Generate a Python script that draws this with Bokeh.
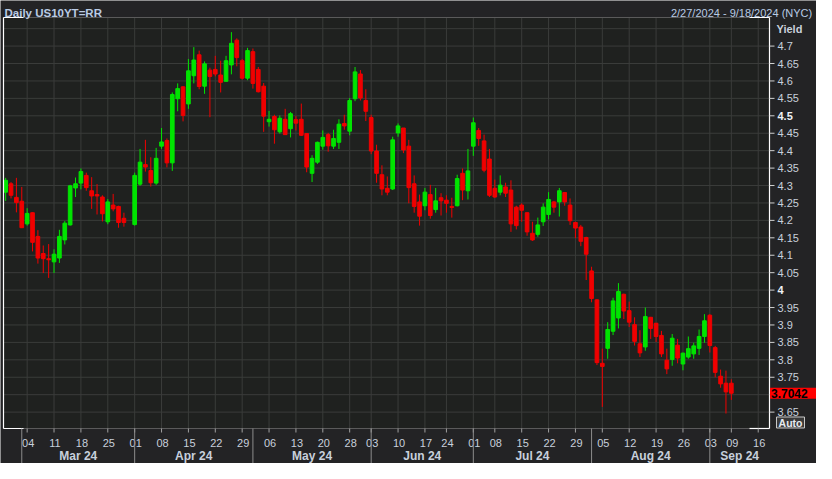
import pandas as pd
from bokeh.plotting import figure
from bokeh.models import Range1d, ColumnDataSource, Grid, BoxAnnotation
from bokeh.core.properties import value
from bokeh.embed import file_html
from bokeh.resources import INLINE

# ---------------- data ----------------
holidays = ["2024-05-27", "2024-06-19", "2024-07-04", "2024-09-02"]
no_data_days = ["2024-03-29"]
last_day = "2024-09-09"

opens = [
    4.281, 4.305, 4.266, 4.255,
    4.190, 4.222, 4.154, 4.105, 4.090,
    4.081, 4.092, 4.144, 4.187, 4.293,
    4.307, 4.329, 4.285, 4.274, 4.267,
    4.196, 4.244, 4.240, 4.206,
    4.188, 4.304, 4.360, 4.343, 4.307,
    4.413, 4.429, 4.365, 4.549, 4.583,
    4.534, 4.615, 4.675, 4.585, 4.631,
    4.633, 4.617, 4.599, 4.646, 4.717,
    4.658, 4.608, 4.684, 4.633, 4.585,
    4.483, 4.498, 4.454, 4.490, 4.463,
    4.489, 4.490, 4.449, 4.335, 4.367,
    4.413, 4.446, 4.413, 4.424, 4.478,
    4.456, 4.549, 4.620, 4.544,
    4.495, 4.399, 4.331, 4.292, 4.290,
    4.451, 4.465, 4.413, 4.305, 4.253,
    4.242, 4.274, 4.231, 4.265,
    4.258, 4.240, 4.242, 4.335, 4.285,
    4.413, 4.458, 4.428, 4.376,
    4.292, 4.281, 4.296, 4.287, 4.238,
    4.244, 4.222, 4.163, 4.160, 4.196,
    4.217, 4.253, 4.253, 4.280, 4.244,
    4.194, 4.181, 4.151, 4.055, 3.972,
    3.790, 3.833, 3.882, 3.920, 3.988,
    3.941, 3.901, 3.846, 3.837, 3.922,
    3.905, 3.870, 3.799, 3.801, 3.842,
    3.788, 3.808, 3.817, 3.833, 3.867,
    3.928, 3.835, 3.753, 3.733,
    3.733,
]
highs = [
    4.322, 4.310, 4.322, 4.296,
    4.235, 4.223, 4.172, 4.128, 4.132,
    4.117, 4.173, 4.198, 4.302, 4.323,
    4.349, 4.337, 4.324, 4.304, 4.272,
    4.261, 4.276, 4.242, 4.222,
    4.337, 4.405, 4.431, 4.381, 4.408,
    4.465, 4.435, 4.567, 4.593, 4.585,
    4.663, 4.697, 4.687, 4.656, 4.638,
    4.672, 4.658, 4.672, 4.740, 4.722,
    4.663, 4.695, 4.693, 4.640, 4.594,
    4.514, 4.503, 4.501, 4.520, 4.511,
    4.499, 4.535, 4.449, 4.387, 4.426,
    4.458, 4.451, 4.460, 4.490, 4.503,
    4.551, 4.640, 4.631, 4.576,
    4.503, 4.417, 4.358, 4.326, 4.440,
    4.478, 4.465, 4.431, 4.329, 4.274,
    4.293, 4.302, 4.293, 4.278,
    4.272, 4.265, 4.331, 4.349, 4.405,
    4.495, 4.465, 4.446, 4.405,
    4.317, 4.329, 4.308, 4.315, 4.242,
    4.249, 4.223, 4.196, 4.208, 4.249,
    4.281, 4.256, 4.293, 4.281, 4.263,
    4.196, 4.187, 4.153, 4.067, 3.974,
    3.832, 3.908, 3.978, 4.020, 3.990,
    3.967, 3.922, 3.885, 3.950, 3.923,
    3.905, 3.883, 3.832, 3.874, 3.860,
    3.821, 3.867, 3.849, 3.887, 3.931,
    3.931, 3.840, 3.772, 3.769,
    3.744,
]
lows = [
    4.256, 4.263, 4.223, 4.178,
    4.185, 4.111, 4.076, 4.049, 4.035,
    4.049, 4.078, 4.131, 4.185, 4.267,
    4.289, 4.285, 4.233, 4.217, 4.197,
    4.189, 4.226, 4.179, 4.182,
    4.185, 4.299, 4.340, 4.297, 4.302,
    4.405, 4.352, 4.342, 4.513, 4.484,
    4.520, 4.593, 4.576, 4.563, 4.496,
    4.613, 4.567, 4.599, 4.619, 4.642,
    4.604, 4.602, 4.578, 4.567, 4.454,
    4.469, 4.420, 4.449, 4.446, 4.438,
    4.458, 4.442, 4.338, 4.310, 4.362,
    4.403, 4.397, 4.405, 4.405, 4.460,
    4.444, 4.542, 4.544, 4.485,
    4.390, 4.308, 4.272, 4.272, 4.287,
    4.440, 4.393, 4.249, 4.222, 4.185,
    4.229, 4.205, 4.222, 4.214,
    4.222, 4.208, 4.240, 4.258, 4.260,
    4.385, 4.414, 4.338, 4.267,
    4.265, 4.272, 4.267, 4.167, 4.174,
    4.196, 4.156, 4.141, 4.153, 4.184,
    4.203, 4.222, 4.211, 4.242, 4.187,
    4.149, 4.126, 4.029, 3.965, 3.785,
    3.665, 3.803, 3.871, 3.890, 3.917,
    3.894, 3.841, 3.808, 3.826, 3.860,
    3.851, 3.808, 3.759, 3.783, 3.790,
    3.770, 3.803, 3.803, 3.814, 3.849,
    3.821, 3.750, 3.720, 3.646,
    3.685,
]
closes = [
    4.315, 4.272, 4.251, 4.179,
    4.220, 4.137, 4.092, 4.090, 4.087,
    4.103, 4.154, 4.192, 4.299, 4.305,
    4.340, 4.294, 4.270, 4.270, 4.219,
    4.253, 4.233, 4.194, 4.194,
    4.329, 4.367, 4.353, 4.308, 4.378,
    4.425, 4.365, 4.561, 4.578, 4.501,
    4.629, 4.660, 4.584, 4.649, 4.613,
    4.620, 4.596, 4.658, 4.708, 4.667,
    4.608, 4.687, 4.593, 4.569, 4.499,
    4.490, 4.460, 4.493, 4.446, 4.506,
    4.479, 4.444, 4.353, 4.378, 4.424,
    4.438, 4.414, 4.435, 4.476, 4.471,
    4.544, 4.626, 4.551, 4.513,
    4.399, 4.335, 4.290, 4.281, 4.431,
    4.471, 4.402, 4.294, 4.240, 4.212,
    4.281, 4.214, 4.256, 4.256,
    4.249, 4.237, 4.320, 4.287, 4.342,
    4.480, 4.435, 4.344, 4.272,
    4.267, 4.301, 4.278, 4.190, 4.185,
    4.229, 4.167, 4.144, 4.187, 4.238,
    4.260, 4.238, 4.285, 4.253, 4.199,
    4.178, 4.140, 4.103, 3.976, 3.792,
    3.781, 3.887, 3.969, 3.996, 3.940,
    3.908, 3.853, 3.820, 3.924, 3.890,
    3.867, 3.817, 3.774, 3.862, 3.805,
    3.819, 3.832, 3.840, 3.867, 3.912,
    3.841, 3.764, 3.731, 3.708,
    3.7042,
]

tick_dates = ["2024-03-04", "2024-03-11", "2024-03-18", "2024-03-25", "2024-04-01",
              "2024-04-08", "2024-04-15", "2024-04-22", "2024-04-29", "2024-05-06",
              "2024-05-13", "2024-05-20", "2024-05-28", "2024-06-03", "2024-06-10",
              "2024-06-17", "2024-06-24", "2024-07-01", "2024-07-08", "2024-07-15",
              "2024-07-22", "2024-07-29", "2024-08-05", "2024-08-12", "2024-08-19",
              "2024-08-26", "2024-09-03", "2024-09-09", "2024-09-16"]
tick_labels = ["04", "11", "18", "25", "01", "08", "15", "22", "29", "06", "13", "20",
               "28", "03", "10", "17", "24", "01", "08", "15", "22", "29", "05", "12",
               "19", "26", "03", "09", "16"]
month_starts = ["2024-03-01", "2024-04-01", "2024-05-01", "2024-06-03",
                "2024-07-01", "2024-08-01", "2024-09-03"]
month_labels = ["Mar 24", "Apr 24", "May 24", "Jun 24", "Jul 24", "Aug 24", "Sep 24"]

y_ticks = [3.65, 3.7, 3.75, 3.8, 3.85, 3.9, 3.95, 4.0, 4.05, 4.1, 4.15, 4.2, 4.25,
           4.3, 4.35, 4.4, 4.45, 4.5, 4.55, 4.6, 4.65, 4.7]
y_grid = y_ticks + [4.75]
bold_y = [4.0, 4.5]
hidden_y = [3.7]
last_price = closes[-1]

title_text = "Daily US10YT=RR"
range_text = "2/27/2024 - 9/18/2024 (NYC)"
axis_title = "Yield"
scale_mode = "Auto"

# ---------------- layout ----------------
W, H = 816, 463
CL, CR, CT, CB = 3, 769, 17, 428          # chart area inside the canvas (px)
X0c, X1c = -0.4, 142.1                      # x (trading-day index) at chart edges
Y0c, Y1c = 3.603, 4.782                     # yield at chart bottom / top
ppx = (CR - CL) / (X1c - X0c)
ppy = (CB - CT) / (Y1c - Y0c)


def fx(px):
    return X0c + (px - CL) / ppx


def fy(py):
    return Y1c - (py - CT) / ppy


BG = "#232325"
PLOT_BG = "#1f211f"
GRID = "#3a3c3a"
TXT = "#c8d0dc"
TTL = "#b9cbe4"
UP = "#00e400"
DN = "#f00000"
FONT = value("Liberation Sans")

cal = [d for d in pd.bdate_range("2024-02-27", "2024-09-20").strftime("%Y-%m-%d")
       if d not in holidays]
pos = {d: i for i, d in enumerate(cal)}
candle_dates = [d for d in cal if d <= last_day and d not in no_data_days]

src = ColumnDataSource(dict(
    x=[pos[d] for d in candle_dates],
    o=opens, h=highs, l=lows, c=closes,
    top=[max(a, b) for a, b in zip(opens, closes)],
    bottom=[min(a, b) for a, b in zip(opens, closes)],
    color=[UP if c >= o else DN for o, c in zip(opens, closes)],
))

p = figure(width=W, height=H, output_backend="svg", toolbar_location=None,
           title=None, x_range=Range1d(fx(0), fx(W)), y_range=Range1d(fy(H), fy(0)),
           x_axis_location=None, y_axis_location=None, min_border=0)
p.center = [r for r in p.center if not isinstance(r, Grid)]
p.background_fill_color = BG
p.border_fill_color = BG
p.outline_line_color = None

# chart area background
p.add_layout(BoxAnnotation(left=X0c, right=X1c, bottom=Y0c, top=Y1c,
                           fill_color=PLOT_BG, fill_alpha=1.0, line_color=None,
                           level="underlay"))

tick_idx = [pos[d] for d in tick_dates]
month_idx = [pos[d] for d in month_starts]
nt, ng = len(tick_idx), len(y_grid)

# grid lines
p.segment(x0=tick_idx, y0=[Y0c] * nt, x1=tick_idx, y1=[Y1c] * nt,
          line_color=GRID, line_width=1)
p.segment(x0=[X0c] * ng, y0=y_grid, x1=[X1c] * ng, y1=y_grid,
          line_color=GRID, line_width=1)

# candles
p.segment(x0="x", y0="h", x1="x", y1="l", line_color="color", line_width=1, source=src)
p.vbar(x="x", width=0.68, top="top", bottom="bottom", fill_color="color",
       line_color="color", line_width=1, source=src)

# chart border: gray top/bottom, white left/right, white corner stubs
p.segment(x0=[X0c, X0c], y0=[Y1c, Y0c], x1=[X1c, X1c], y1=[Y1c, Y0c],
          line_color="#5a5a5a", line_width=1)
p.segment(x0=[X0c, X1c], y0=[Y0c, Y0c], x1=[X0c, X1c], y1=[Y1c, Y1c],
          line_color="#ffffff", line_width=1.2)
stub = 20 / ppx
p.segment(x0=[X0c, X0c, X1c - stub, X1c - stub], y0=[Y1c, Y0c, Y1c, Y0c],
          x1=[X0c + stub, X0c + stub, X1c, X1c], y1=[Y1c, Y0c, Y1c, Y0c],
          line_color="#ffffff", line_width=1.2)

# y axis (right): ticks and labels
ny = len(y_ticks)
p.segment(x0=[X1c] * ny, y0=y_ticks, x1=[fx(CR + 5)] * ny, y1=y_ticks,
          line_color="#d0d0d0", line_width=1)
norm_y = [t for t in y_ticks if t not in bold_y and t not in hidden_y]
p.text(x=[fx(CR + 8)] * len(norm_y), y=norm_y, text=[f"{t:g}" for t in norm_y],
       text_font=FONT, text_font_size=value("11px"), text_color=TXT,
       text_align="left", text_baseline="middle")
p.text(x=[fx(CR + 8)] * len(bold_y), y=bold_y, text=[f"{t:g}" for t in bold_y],
       text_font=FONT, text_font_size=value("11px"), text_font_style="bold",
       text_color="#eef2f7", text_align="left", text_baseline="middle")
p.text(x=[fx(CR + 7)], y=[fy(CT + 11.3)], text=[axis_title], text_font=FONT,
       text_font_size=value("11px"), text_font_style="bold", text_color=TXT,
       text_align="left", text_baseline="alphabetic")

# last price tag
p.rect(x=[fx((CR + W) / 2 + 0.5)], y=[last_price], width=W - CR, height=11,
       width_units="screen", height_units="screen", fill_color="#ff0000", line_color=None)
p.text(x=[fx(CR + 1.5)], y=[last_price], text=[f"{last_price:.4f}"], text_font=FONT,
       text_font_size=value("12px"), text_font_style="bold", text_color="#000000",
       text_align="left", text_baseline="middle")

# "Auto" box
p.rect(x=[fx(CR + 21)], y=[fy(CB - 6)], width=28, height=11,
       width_units="screen", height_units="screen", fill_color="#3a3a3a",
       line_color="#c8c8c8", line_width=1)
p.text(x=[fx(CR + 21)], y=[fy(CB - 6)], text=[scale_mode], text_font=FONT,
       text_font_size=value("10.5px"), text_font_style="bold", text_color="#e6eaf0",
       text_align="center", text_baseline="middle")

# x axis (bottom): ticks, labels, month separators and month names
p.segment(x0=tick_idx, y0=[Y0c] * nt, x1=tick_idx, y1=[fy(CB + 4)] * nt,
          line_color="#a0a0a0", line_width=1)
p.text(x=tick_idx, y=[fy(CB + 14)] * nt, text=tick_labels, x_offset=1,
       text_font=FONT, text_font_size=value("11px"), text_color=TXT,
       text_align="center", text_baseline="alphabetic")
nm = len(month_idx)
p.segment(x0=month_idx, y0=[Y0c] * nm, x1=month_idx, y1=[fy(H)] * nm,
          line_color="#8c8c8c", line_width=1)
month_mid = [(month_idx[k] + (month_idx[k + 1] if k + 1 < nm else X1c)) / 2
             for k in range(nm)]
p.text(x=month_mid, y=[fy(CB + 27)] * nm, text=month_labels, text_font=FONT,
       text_font_size=value("12px"), text_font_style="bold", text_color=TXT,
       text_align="center", text_baseline="alphabetic")

# header texts
p.text(x=[fx(4)], y=[fy(12.3)], text=[title_text], text_font=FONT,
       text_font_size=value("11.5px"), text_font_style="bold", text_color=TTL,
       text_align="left", text_baseline="alphabetic")
p.text(x=[fx(W - 4.3)], y=[fy(12.3)], text=[range_text], text_font=FONT,
       text_font_size=value("11px"), text_color=TTL,
       text_align="right", text_baseline="alphabetic")

open("out.html", "w").write(file_html(p, INLINE))
